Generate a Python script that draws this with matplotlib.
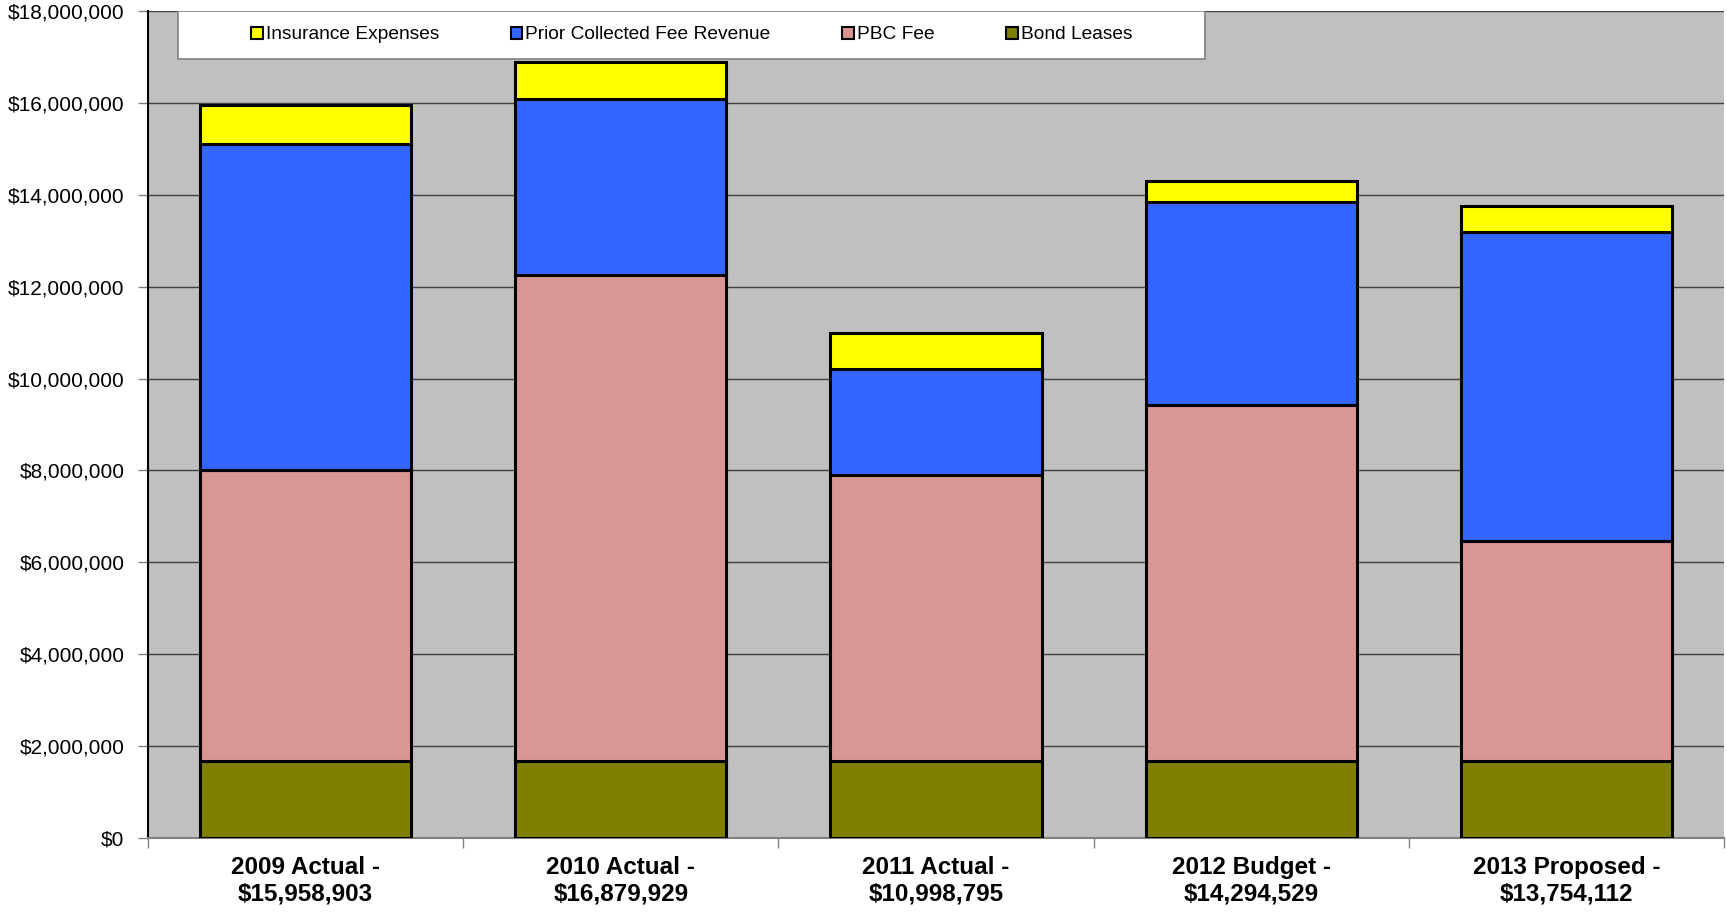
import matplotlib
matplotlib.use("Agg")
import matplotlib.pyplot as plt
from matplotlib.patches import Patch, Rectangle
from matplotlib.ticker import FuncFormatter, MultipleLocator, FixedLocator
import numpy as np

plt.rcParams['font.family'] = ['Liberation Sans', 'DejaVu Sans']

categories = ["2009 Actual -\n$15,958,903", "2010 Actual -\n$16,879,929", "2011 Actual -\n$10,998,795",
              "2012 Budget -\n$14,294,529", "2013 Proposed -\n$13,754,112"]
bond_leases = [1680000, 1680000, 1680000, 1680000, 1680000]
pbc_fee = [6320000, 10570000, 6230000, 7740000, 4790000]
prior_fee = [7100000, 3830000, 2300000, 4430000, 6710000]
insurance = [858903, 799929, 788795, 444529, 574112]

series = [("Bond Leases", bond_leases, "#808000"),
          ("PBC Fee", pbc_fee, "#DA9694"),
          ("Prior Collected Fee Revenue", prior_fee, "#3366FF"),
          ("Insurance Expenses", insurance, "#FFFF00")]

fig = plt.figure(figsize=(17.27, 9.14), dpi=100)
ax = fig.add_axes([148/1727, 76/914, 1576/1727, 827/914])
ax.set_facecolor("#C0C0C0")

x = np.arange(len(categories))
bottom = np.zeros(len(categories))
for name, vals, col in series:
    ax.bar(x, vals, width=0.67, bottom=bottom, color=col, edgecolor="black", linewidth=2.2, zorder=3)
    bottom += np.array(vals)

ax.set_xlim(-0.5, 4.5)
ax.set_ylim(0, 18000000)
ax.yaxis.set_major_locator(MultipleLocator(2000000))
ax.yaxis.set_major_formatter(FuncFormatter(lambda v, p: "${:,.0f}".format(v)))
ax.grid(axis="y", color="#404040", linewidth=1.0, zorder=1)

ax.set_xticks(x)
ax.set_xticklabels(categories, fontsize=17.5, fontweight="bold", linespacing=1.2)
ax.tick_params(axis="x", which="major", length=0, pad=13)
ax.xaxis.set_minor_locator(FixedLocator(np.arange(-0.5, 5.0, 1.0)))
ax.tick_params(axis="x", which="minor", length=7, color="#808080", width=1)
ax.tick_params(axis="y", labelsize=15, length=7, width=1, color="#808080", pad=10)

for s in ["top", "right"]:
    ax.spines[s].set_visible(False)
ax.spines["left"].set_color("black")
ax.spines["left"].set_linewidth(1.5)
ax.spines["bottom"].set_color("#808080")
ax.spines["bottom"].set_linewidth(1.5)

# legend box
ax.add_patch(Rectangle((0.019, 0.942), 0.652, 0.058, transform=ax.transAxes,
                       facecolor="white", edgecolor="#808080", linewidth=1.2, zorder=5))
handles = [Patch(facecolor=col, edgecolor="black", linewidth=1.5, label=name)
           for name, vals, col in reversed(series)]
leg = ax.legend(handles=handles, ncol=4, loc="center", bbox_to_anchor=(0.345, 0.971),
                frameon=False, fontsize=13.8, handlelength=0.6, handleheight=0.6,
                handletextpad=0.15, columnspacing=3.75)
leg.set_zorder(6)

fig.savefig("out.png", dpi=100)
